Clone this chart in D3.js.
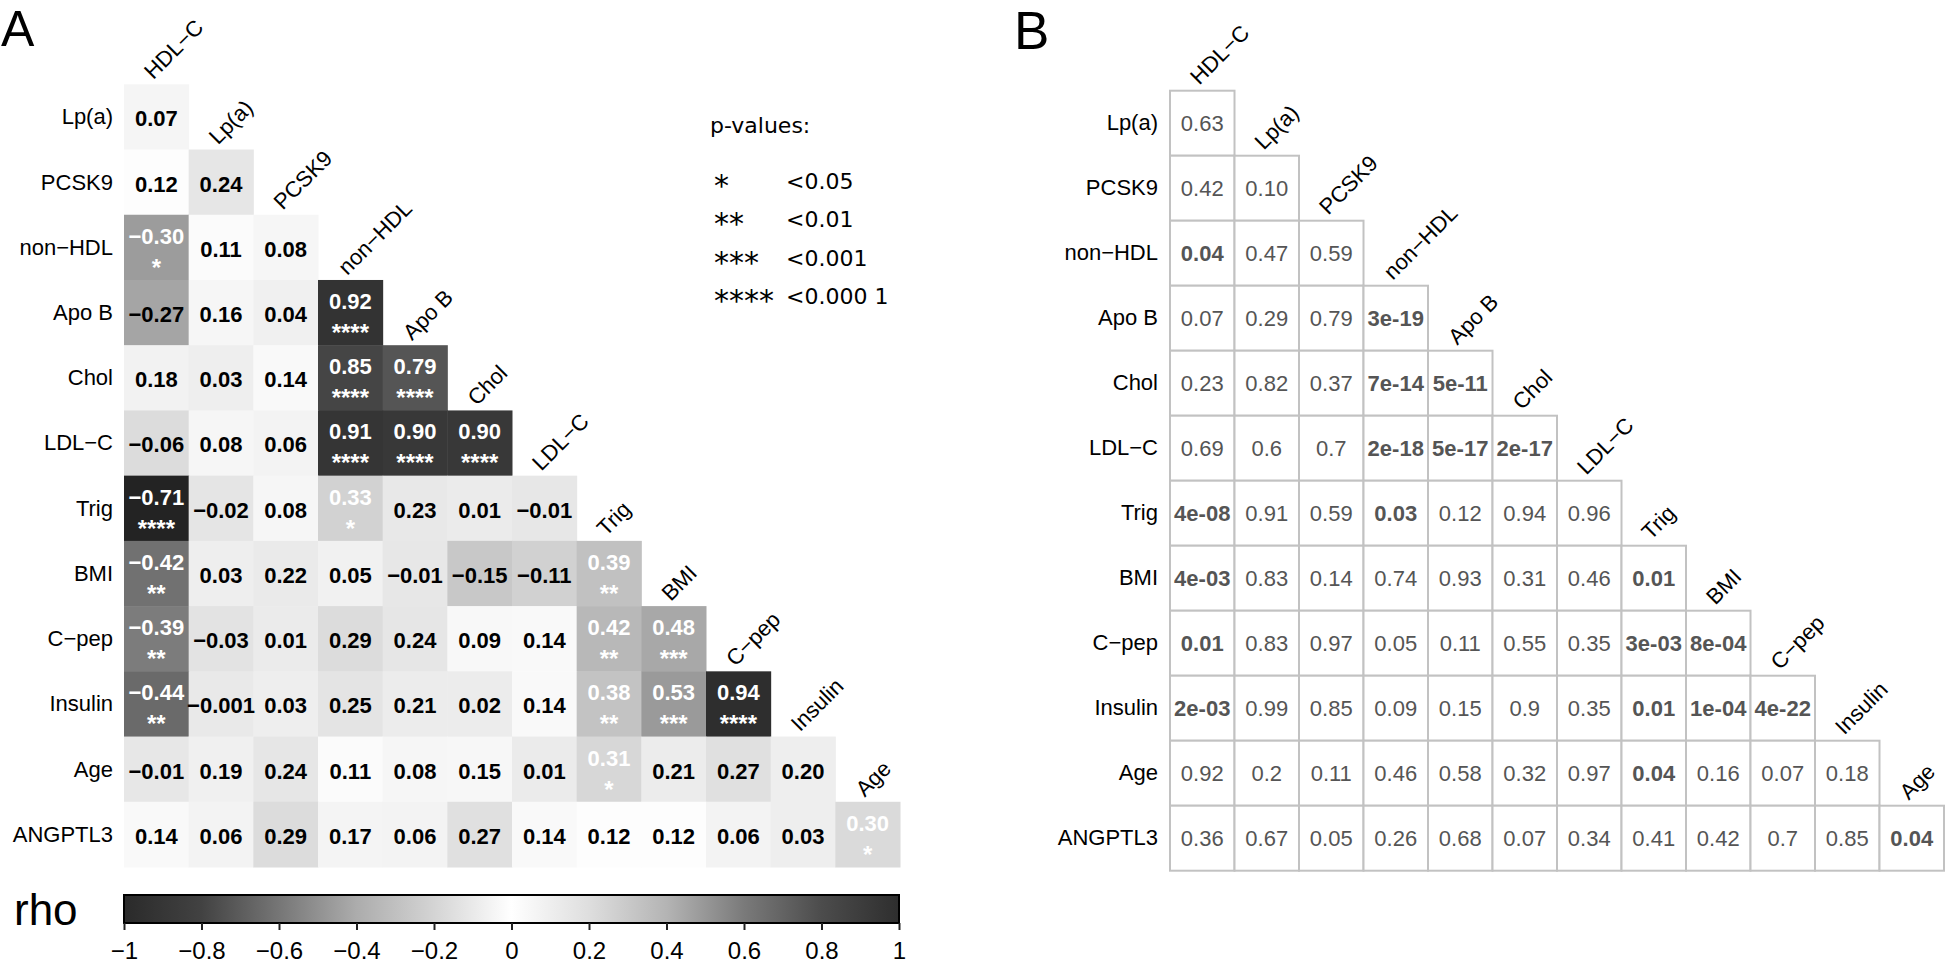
<!DOCTYPE html>
<html>
<head>
<meta charset="utf-8">
<script src="https://cdn.jsdelivr.net/npm/d3@7/dist/d3.min.js"></script>
<style>
  html, body { margin: 0; padding: 0; background: #fff; }
  svg { display: block; }
</style>
</head>
<body>
<svg id="chart" width="1945" height="966"></svg>
<script>
// ---------------- DATA ----------------
const M = "\u2212";
const rowVars = ["Lp(a)", "PCSK9", "non" + M + "HDL", "Apo B", "Chol", "LDL" + M + "C", "Trig", "BMI", "C" + M + "pep", "Insulin", "Age", "ANGPTL3"];
const colVars = ["HDL" + M + "C", "Lp(a)", "PCSK9", "non" + M + "HDL", "Apo B", "Chol", "LDL" + M + "C", "Trig", "BMI", "C" + M + "pep", "Insulin", "Age"];

// Spearman rho, lower triangle, row by row
const rhoLpa     = [0.07];
const rhoPCSK9   = [0.12, 0.24];
const rhoNonHDL  = [-0.30, 0.11, 0.08];
const rhoApoB    = [-0.27, 0.16, 0.04, 0.92];
const rhoChol    = [0.18, 0.03, 0.14, 0.85, 0.79];
const rhoLDL     = [-0.06, 0.08, 0.06, 0.91, 0.90, 0.90];
const rhoTrig    = [-0.71, -0.02, 0.08, 0.33, 0.23, 0.01, -0.01];
const rhoBMI     = [-0.42, 0.03, 0.22, 0.05, -0.01, -0.15, -0.11, 0.39];
const rhoCpep    = [-0.39, -0.03, 0.01, 0.29, 0.24, 0.09, 0.14, 0.42, 0.48];
const rhoInsulin = [-0.44, -0.001, 0.03, 0.25, 0.21, 0.02, 0.14, 0.38, 0.53, 0.94];
const rhoAge     = [-0.01, 0.19, 0.24, 0.11, 0.08, 0.15, 0.01, 0.31, 0.21, 0.27, 0.20];
const rhoANGPTL3 = [0.14, 0.06, 0.29, 0.17, 0.06, 0.27, 0.14, 0.12, 0.12, 0.06, 0.03, 0.30];
const rhoRows = [rhoLpa, rhoPCSK9, rhoNonHDL, rhoApoB, rhoChol, rhoLDL, rhoTrig, rhoBMI, rhoCpep, rhoInsulin, rhoAge, rhoANGPTL3];

// p-values as printed in panel B
const pLpa     = ["0.63"];
const pPCSK9   = ["0.42", "0.10"];
const pNonHDL  = ["0.04", "0.47", "0.59"];
const pApoB    = ["0.07", "0.29", "0.79", "3e-19"];
const pChol    = ["0.23", "0.82", "0.37", "7e-14", "5e-11"];
const pLDL     = ["0.69", "0.6", "0.7", "2e-18", "5e-17", "2e-17"];
const pTrig    = ["4e-08", "0.91", "0.59", "0.03", "0.12", "0.94", "0.96"];
const pBMI     = ["4e-03", "0.83", "0.14", "0.74", "0.93", "0.31", "0.46", "0.01"];
const pCpep    = ["0.01", "0.83", "0.97", "0.05", "0.11", "0.55", "0.35", "3e-03", "8e-04"];
const pInsulin = ["2e-03", "0.99", "0.85", "0.09", "0.15", "0.9", "0.35", "0.01", "1e-04", "4e-22"];
const pAge     = ["0.92", "0.2", "0.11", "0.46", "0.58", "0.32", "0.97", "0.04", "0.16", "0.07", "0.18"];
const pANGPTL3 = ["0.36", "0.67", "0.05", "0.26", "0.68", "0.07", "0.34", "0.41", "0.42", "0.7", "0.85", "0.04"];
const pRows = [pLpa, pPCSK9, pNonHDL, pApoB, pChol, pLDL, pTrig, pBMI, pCpep, pInsulin, pAge, pANGPTL3];

// colour bar ticks
const barTicks = [-1, -0.8, -0.6, -0.4, -0.2, 0, 0.2, 0.4, 0.6, 0.8, 1];
const barTickLabels = [M + "1", M + "0.8", M + "0.6", M + "0.4", M + "0.2", "0", "0.2", "0.4", "0.6", "0.8", "1"];

// legend
const legendStars = ["*", "**", "***", "****"];
const legendThresh = ["<0.05", "<0.01", "<0.001", "<0.000 1"];

// ---------------- STYLE ----------------
const FONT = "'Liberation Sans', Arial, Helvetica, sans-serif";
const cellFill = d3.scaleLinear()
  .domain([-1, -0.7, -0.44, -0.3, -0.15, -0.06, 0, 0.12, 0.2, 0.3, 0.42, 0.53, 0.8, 1])
  .range([28, 35, 106, 156, 200, 220, 233, 253, 238, 218, 184, 154, 82, 30].map(g => d3.rgb(g, g, g)))
  .clamp(true);
const barStops = [
  [-1, 42], [-0.8, 66], [-0.6, 118], [-0.4, 172], [-0.2, 212], [0, 255],
  [0.2, 222], [0.4, 180], [0.6, 122], [0.8, 76], [1, 46]
];

function stars(p) {
  return p < 0.0001 ? "****" : p < 0.001 ? "***" : p <= 0.01 ? "**" : p < 0.05 ? "*" : "";
}
function fmtRho(v) {
  const s = (Math.abs(v) < 0.01 && v !== 0) ? v.toFixed(3) : v.toFixed(2);
  return s.replace("-", M);
}

// flatten cells
const cells = [];
rhoRows.forEach((row, i) => row.forEach((v, j) => {
  const ps = pRows[i][j];
  cells.push({ row: rowVars[i], col: colVars[j], ri: i, ci: j, rho: v, pStr: ps, p: +ps });
}));

const svg = d3.select("#chart");

// ---------------- PANEL A ----------------
const xA = d3.scaleBand().domain(colVars).range([124, 900]);
const yA = d3.scaleBand().domain(rowVars).range([84.3, 867]);

const gA = svg.append("g").attr("font-family", FONT);

gA.selectAll("rect.cell").data(cells).join("rect")
  .attr("class", "cell")
  .attr("x", d => xA(d.col)).attr("y", d => yA(d.row))
  .attr("width", xA.bandwidth() + 0.5).attr("height", yA.bandwidth() + 0.5)
  .attr("fill", d => cellFill(d.rho));

gA.selectAll("text.val").data(cells).join("text")
  .attr("class", "val")
  .attr("x", d => xA(d.col) + xA.bandwidth() / 2)
  .attr("y", d => yA(d.row) + (stars(d.p) ? 29 : 42))
  .attr("text-anchor", "middle")
  .attr("font-size", 22).attr("font-weight", "bold")
  .attr("fill", d => stars(d.p) ? "#fff" : "#000")
  .text(d => fmtRho(d.rho));

gA.selectAll("text.star").data(cells.filter(d => stars(d.p))).join("text")
  .attr("class", "star")
  .attr("x", d => xA(d.col) + xA.bandwidth() / 2)
  .attr("y", d => yA(d.row) + 61)
  .attr("text-anchor", "middle")
  .attr("font-size", 24).attr("font-weight", "bold")
  .attr("fill", "#fff")
  .text(d => stars(d.p));

// row labels
gA.selectAll("text.rl").data(rowVars).join("text")
  .attr("class", "rl")
  .attr("x", 113).attr("y", d => yA(d) + 40)
  .attr("text-anchor", "end").attr("font-size", 22).attr("fill", "#000")
  .text(d => d);

// column labels (rotated, above diagonal cell)
gA.selectAll("text.cl").data(colVars).join("text")
  .attr("class", "cl")
  .attr("transform", (d, j) => `translate(${xA(d) + xA.bandwidth() / 2 - 3},${yA(rowVars[j]) - 4}) rotate(-45)`)
  .attr("font-size", 22).attr("fill", "#000")
  .text(d => d);

// panel letter
svg.append("text").attr("x", 1).attr("y", 46).attr("font-family", FONT)
  .attr("font-size", 50).text("A");

// legend
const gL = svg.append("g").attr("font-family", "'DejaVu Sans', Verdana, sans-serif").attr("font-size", 22).attr("fill", "#000");
gL.append("text").attr("x", 710).attr("y", 133).text("p-values:");
gL.selectAll("text.ls").data(legendStars).join("text")
  .attr("class", "ls").attr("x", 714).attr("y", (d, i) => 196 + i * 38.3)
  .attr("font-size", 30).text(d => d);
gL.selectAll("text.lt").data(legendThresh).join("text")
  .attr("class", "lt").attr("x", 786).attr("y", (d, i) => 189 + i * 38.3)
  .text(d => d);

// colour bar
const xBar = d3.scaleLinear().domain([-1, 1]).range([124, 899]);
const defs = svg.append("defs");
const grad = defs.append("linearGradient").attr("id", "rhoGrad")
  .attr("x1", "0%").attr("x2", "100%").attr("y1", "0%").attr("y2", "0%");
grad.selectAll("stop").data(barStops).join("stop")
  .attr("offset", d => ((d[0] + 1) / 2 * 100) + "%")
  .attr("stop-color", d => d3.rgb(d[1], d[1], d[1]));

const barTop = 895, barH = 28;
svg.append("rect").attr("x", xBar(-1)).attr("y", barTop)
  .attr("width", xBar(1) - xBar(-1)).attr("height", barH)
  .attr("fill", "url(#rhoGrad)").attr("stroke", "#000").attr("stroke-width", 2);

const axisBar = d3.axisBottom(xBar).tickValues(barTicks)
  .tickFormat((d, i) => barTickLabels[i]).tickSize(7).tickPadding(12);
const gAx = svg.append("g").attr("transform", `translate(0,${barTop + barH})`).call(axisBar);
gAx.select(".domain").remove();
gAx.selectAll(".tick line").attr("stroke", "#222").attr("stroke-width", 2);
gAx.selectAll(".tick text").attr("font-family", FONT).attr("font-size", 24).attr("fill", "#000");

svg.append("text").attr("x", 14).attr("y", 925).attr("font-family", FONT)
  .attr("font-size", 44).text("rho");

// ---------------- PANEL B ----------------
const xB = d3.scaleBand().domain(colVars).range([1170, 1944]);
const yB = d3.scaleBand().domain(rowVars).range([90.7, 870.7]);
const gB = svg.append("g").attr("font-family", FONT);

gB.selectAll("rect.bcell").data(cells).join("rect")
  .attr("class", "bcell")
  .attr("x", d => xB(d.col)).attr("y", d => yB(d.row))
  .attr("width", xB.bandwidth()).attr("height", yB.bandwidth())
  .attr("fill", "#fff").attr("stroke", "#c2c2c2").attr("stroke-width", 2);

gB.selectAll("text.pv").data(cells).join("text")
  .attr("class", "pv")
  .attr("x", d => xB(d.col) + xB.bandwidth() / 2)
  .attr("y", d => yB(d.row) + 40)
  .attr("text-anchor", "middle")
  .attr("font-size", 22)
  .attr("font-weight", d => d.p < 0.05 ? "bold" : "normal")
  .attr("fill", "#555")
  .text(d => d.pStr);

gB.selectAll("text.rl").data(rowVars).join("text")
  .attr("class", "rl")
  .attr("x", 1158).attr("y", d => yB(d) + 39)
  .attr("text-anchor", "end").attr("font-size", 22).attr("fill", "#000")
  .text(d => d);

gB.selectAll("text.cl").data(colVars).join("text")
  .attr("class", "cl")
  .attr("transform", (d, j) => `translate(${xB(d) + xB.bandwidth() / 2 - 3},${yB(rowVars[j]) - 5}) rotate(-45)`)
  .attr("font-size", 22).attr("fill", "#000")
  .text(d => d);

svg.append("text").attr("x", 1014).attr("y", 49).attr("font-family", FONT)
  .attr("font-size", 53).text("B");
</script>
</body>
</html>
